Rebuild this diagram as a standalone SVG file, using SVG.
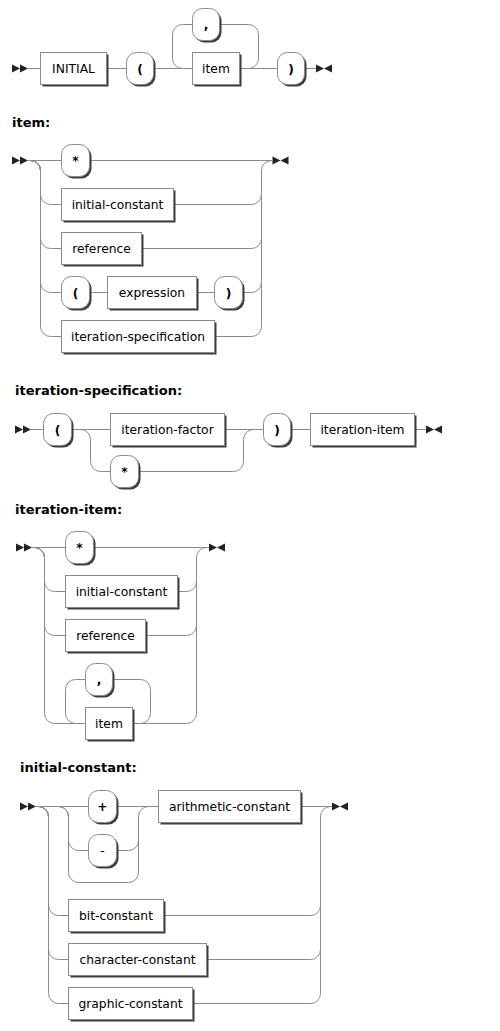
<svg xmlns="http://www.w3.org/2000/svg" width="500" height="1031" viewBox="0 0 500 1031">
<style>
.line{fill:none;stroke:#8a8a8a;stroke-width:1}
.box{fill:#fff;stroke:#8a8a8a;stroke-width:1}
.shadow{fill:#3c3c3c}
.mk{fill:#222}
text{font-family:"DejaVu Sans",Verdana,sans-serif;fill:#000}
.t{font-size:12.3px;text-anchor:middle}
.k{font-weight:bold}
.title{font-size:13px;font-weight:bold}
</style>
<rect width="500" height="1031" fill="#fff"/>

<!-- titles -->
<text class="title" x="12" y="127">item:</text>
<text class="title" x="15" y="395">iteration-specification:</text>
<text class="title" x="15" y="514">iteration-item:</text>
<text class="title" x="20" y="772">initial-constant:</text>

<g id="connectors">
  <!-- diagram 1 -->
  <polygon class="mk" points="20 68.5 12 64.5 12 72.5"/><polygon class="mk" points="28 68.5 20 64.5 20 72.5"/>
  <polygon class="mk" points="324 68.5 316 64.5 316 72.5"/><polygon class="mk" points="324 68.5 332 64.5 332 72.5"/>
  <path class="line" d="M28 68.5H40.5M106.5 68.5H126.5M153.5 68.5H192.5M239.5 68.5H277.5M304.5 68.5H316"/>
  <path class="line" d="M182.5 68.5a10 10 0 0 1 -10 -10v-24a10 10 0 0 1 10 -10h10"/>
  <path class="line" d="M248.5 68.5a10 10 0 0 0 10 -10v-24a10 10 0 0 0 -10 -10H219.5"/>

  <!-- diagram 2: item -->
  <polygon class="mk" points="20 160.5 12 156.5 12 164.5"/><polygon class="mk" points="28 160.5 20 156.5 20 164.5"/>
  <polygon class="mk" points="280.5 160.5 272.5 156.5 272.5 164.5"/><polygon class="mk" points="280.5 160.5 288.5 156.5 288.5 164.5"/>
  <path class="line" d="M28 160.5H61.5M89.5 160.5H272.5"/>
  <path class="line" d="M30.5 160.5a10 10 0 0 1 10 10V194.5a10 10 0 0 0 10 10H61.5"/>
  <path class="line" d="M30.5 160.5a10 10 0 0 1 10 10V238.5a10 10 0 0 0 10 10H61.5"/>
  <path class="line" d="M30.5 160.5a10 10 0 0 1 10 10V282.5a10 10 0 0 0 10 10H61.5"/>
  <path class="line" d="M30.5 160.5a10 10 0 0 1 10 10V326.5a10 10 0 0 0 10 10H61.5"/>
  <path class="line" d="M173.5 204.5H251.5a10 10 0 0 0 10 -10V170.5a10 10 0 0 1 10 -10"/>
  <path class="line" d="M141.5 248.5H251.5a10 10 0 0 0 10 -10V170.5"/>
  <path class="line" d="M89.5 292.5H107.5M196.5 292.5H214.5M242.5 292.5H251.5a10 10 0 0 0 10 -10V170.5"/>
  <path class="line" d="M214.5 336.5H251.5a10 10 0 0 0 10 -10V170.5"/>

  <!-- diagram 3: iteration-specification -->
  <polygon class="mk" points="23 429.5 15 425.5 15 433.5"/><polygon class="mk" points="31 429.5 23 425.5 23 433.5"/>
  <polygon class="mk" points="434 429.5 426 425.5 426 433.5"/><polygon class="mk" points="434 429.5 442 425.5 442 433.5"/>
  <path class="line" d="M31 429.5H43.5M71.5 429.5H110.5M224.5 429.5H263.5M290.5 429.5H310.5M414.5 429.5H426"/>
  <path class="line" d="M80.5 429.5a10 10 0 0 1 10 10v22a10 10 0 0 0 10 10H110.5"/>
  <path class="line" d="M138.5 471.5H233.5a10 10 0 0 0 10 -10v-22a10 10 0 0 1 10 -10"/>

  <!-- diagram 4: iteration-item -->
  <polygon class="mk" points="24 547.5 16 543.5 16 551.5"/><polygon class="mk" points="32 547.5 24 543.5 24 551.5"/>
  <polygon class="mk" points="217 547.5 209 543.5 209 551.5"/><polygon class="mk" points="217 547.5 225 543.5 225 551.5"/>
  <path class="line" d="M32 547.5H65.5M93.5 547.5H209"/>
  <path class="line" d="M34.5 547.5a10 10 0 0 1 10 10V581.5a10 10 0 0 0 10 10H65.5"/>
  <path class="line" d="M34.5 547.5a10 10 0 0 1 10 10V625.5a10 10 0 0 0 10 10H65.5"/>
  <path class="line" d="M34.5 547.5a10 10 0 0 1 10 10V713.5a10 10 0 0 0 10 10H85.5"/>
  <path class="line" d="M177.5 591.5H186.5a10 10 0 0 0 10 -10V557.5a10 10 0 0 1 10 -10"/>
  <path class="line" d="M145.5 635.5H186.5a10 10 0 0 0 10 -10V557.5"/>
  <path class="line" d="M132.5 723.5H186.5a10 10 0 0 0 10 -10V557.5"/>
  <path class="line" d="M85.5 679.5h-10a10 10 0 0 0 -10 10v24a10 10 0 0 0 10 10"/>
  <path class="line" d="M140.5 723.5a10 10 0 0 0 10 -10v-24a10 10 0 0 0 -10 -10H112.5"/>

  <!-- diagram 5: initial-constant -->
  <polygon class="mk" points="28 806.5 20 802.5 20 810.5"/><polygon class="mk" points="36 806.5 28 802.5 28 810.5"/>
  <polygon class="mk" points="340 806.5 332 802.5 332 810.5"/><polygon class="mk" points="340 806.5 348 802.5 348 810.5"/>
  <path class="line" d="M36 806.5H88.5M116.5 806.5H158.5M300.5 806.5H332"/>
  <path class="line" d="M58.5 806.5a10 10 0 0 1 10 10V840.5a10 10 0 0 0 10 10H88.5"/>
  <path class="line" d="M116.5 850.5H128.5a10 10 0 0 0 10 -10V816.5a10 10 0 0 1 10 -10"/>
  <path class="line" d="M58.5 806.5a10 10 0 0 1 10 10V872.5a10 10 0 0 0 10 10H128.5a10 10 0 0 0 10 -10V816.5"/>
  <path class="line" d="M38.5 806.5a10 10 0 0 1 10 10V905.5a10 10 0 0 0 10 10H68.5"/>
  <path class="line" d="M38.5 806.5a10 10 0 0 1 10 10V949.5a10 10 0 0 0 10 10H68.5"/>
  <path class="line" d="M38.5 806.5a10 10 0 0 1 10 10V993.5a10 10 0 0 0 10 10H68.5"/>
  <path class="line" d="M163.5 915.5H310.5a10 10 0 0 0 10 -10V816.5a10 10 0 0 1 10 -10"/>
  <path class="line" d="M206.5 959.5H310.5a10 10 0 0 0 10 -10V816.5"/>
  <path class="line" d="M192.5 1003.5H310.5a10 10 0 0 0 10 -10V816.5"/>
</g>

<!-- diagram 1 nodes -->
<g id="n-INITIAL"><rect class="shadow" x="42.5" y="54.5" width="66" height="32"/><rect class="box" x="40.5" y="52.5" width="66" height="32"/><text class="t" x="73.5" y="72.5">INITIAL</text></g>
<g id="t-lparen1"><rect class="shadow" x="128.5" y="54.5" width="27" height="32" rx="10"/><rect class="box" x="126.5" y="52.5" width="27" height="32" rx="10"/><text class="t k" x="140" y="72.5">(</text></g>
<g id="t-comma1"><rect class="shadow" x="194.5" y="10.5" width="27" height="32" rx="10"/><rect class="box" x="192.5" y="8.5" width="27" height="32" rx="10"/><text class="t k" x="206" y="28.5">,</text></g>
<g id="n-item1"><rect class="shadow" x="194.5" y="54.5" width="47" height="32"/><rect class="box" x="192.5" y="52.5" width="47" height="32"/><text class="t" x="216" y="72.5">item</text></g>
<g id="t-rparen1"><rect class="shadow" x="279.5" y="54.5" width="27" height="32" rx="10"/><rect class="box" x="277.5" y="52.5" width="27" height="32" rx="10"/><text class="t k" x="291" y="72.5">)</text></g>

<!-- diagram 2 nodes -->
<g id="t-star2"><rect class="shadow" x="63.5" y="146.5" width="28" height="32" rx="10"/><rect class="box" x="61.5" y="144.5" width="28" height="32" rx="10"/><text class="t k" x="75.5" y="164.5">*</text></g>
<g id="n-initial-constant2"><rect class="shadow" x="63.5" y="190.5" width="112" height="32"/><rect class="box" x="61.5" y="188.5" width="112" height="32"/><text class="t" x="117.5" y="208.5">initial-constant</text></g>
<g id="n-reference2"><rect class="shadow" x="63.5" y="234.5" width="80" height="32"/><rect class="box" x="61.5" y="232.5" width="80" height="32"/><text class="t" x="101.5" y="252.5">reference</text></g>
<g id="t-lparen2"><rect class="shadow" x="63.5" y="278.5" width="28" height="32" rx="10"/><rect class="box" x="61.5" y="276.5" width="28" height="32" rx="10"/><text class="t k" x="75.5" y="296.5">(</text></g>
<g id="n-expression2"><rect class="shadow" x="109.5" y="278.5" width="89" height="32"/><rect class="box" x="107.5" y="276.5" width="89" height="32"/><text class="t" x="152" y="296.5">expression</text></g>
<g id="t-rparen2"><rect class="shadow" x="216.5" y="278.5" width="28" height="32" rx="10"/><rect class="box" x="214.5" y="276.5" width="28" height="32" rx="10"/><text class="t k" x="228.5" y="296.5">)</text></g>
<g id="n-iteration-specification2"><rect class="shadow" x="63.5" y="322.5" width="153" height="32"/><rect class="box" x="61.5" y="320.5" width="153" height="32"/><text class="t" x="138" y="340.5">iteration-specification</text></g>

<!-- diagram 3 nodes -->
<g id="t-lparen3"><rect class="shadow" x="45.5" y="415.5" width="28" height="32" rx="10"/><rect class="box" x="43.5" y="413.5" width="28" height="32" rx="10"/><text class="t k" x="57.5" y="433.5">(</text></g>
<g id="n-iteration-factor3"><rect class="shadow" x="112.5" y="415.5" width="114" height="32"/><rect class="box" x="110.5" y="413.5" width="114" height="32"/><text class="t" x="167.5" y="433.5">iteration-factor</text></g>
<g id="t-star3"><rect class="shadow" x="112.5" y="457.5" width="28" height="32" rx="10"/><rect class="box" x="110.5" y="455.5" width="28" height="32" rx="10"/><text class="t k" x="124.5" y="475.5">*</text></g>
<g id="t-rparen3"><rect class="shadow" x="265.5" y="415.5" width="27" height="32" rx="10"/><rect class="box" x="263.5" y="413.5" width="27" height="32" rx="10"/><text class="t k" x="277" y="433.5">)</text></g>
<g id="n-iteration-item3"><rect class="shadow" x="312.5" y="415.5" width="104" height="32"/><rect class="box" x="310.5" y="413.5" width="104" height="32"/><text class="t" x="362.5" y="433.5">iteration-item</text></g>

<!-- diagram 4 nodes -->
<g id="t-star4"><rect class="shadow" x="67.5" y="533.5" width="28" height="32" rx="10"/><rect class="box" x="65.5" y="531.5" width="28" height="32" rx="10"/><text class="t k" x="79.5" y="551.5">*</text></g>
<g id="n-initial-constant4"><rect class="shadow" x="67.5" y="577.5" width="112" height="32"/><rect class="box" x="65.5" y="575.5" width="112" height="32"/><text class="t" x="121.5" y="595.5">initial-constant</text></g>
<g id="n-reference4"><rect class="shadow" x="67.5" y="621.5" width="80" height="32"/><rect class="box" x="65.5" y="619.5" width="80" height="32"/><text class="t" x="105.5" y="639.5">reference</text></g>
<g id="t-comma4"><rect class="shadow" x="87.5" y="665.5" width="27" height="32" rx="10"/><rect class="box" x="85.5" y="663.5" width="27" height="32" rx="10"/><text class="t k" x="99" y="683.5">,</text></g>
<g id="n-item4"><rect class="shadow" x="87.5" y="709.5" width="47" height="32"/><rect class="box" x="85.5" y="707.5" width="47" height="32"/><text class="t" x="109" y="727.5">item</text></g>

<!-- diagram 5 nodes -->
<g id="t-plus5"><rect class="shadow" x="90.5" y="792.5" width="28" height="32" rx="10"/><rect class="box" x="88.5" y="790.5" width="28" height="32" rx="10"/><text class="t k" x="102.5" y="810.5">+</text></g>
<g id="t-minus5"><rect class="shadow" x="90.5" y="836.5" width="28" height="32" rx="10"/><rect class="box" x="88.5" y="834.5" width="28" height="32" rx="10"/><text class="t" x="102.5" y="854.5">-</text></g>
<g id="n-arithmetic-constant5"><rect class="shadow" x="160.5" y="792.5" width="142" height="32"/><rect class="box" x="158.5" y="790.5" width="142" height="32"/><text class="t" x="229.5" y="810.5">arithmetic-constant</text></g>
<g id="n-bit-constant5"><rect class="shadow" x="70.5" y="901.5" width="95" height="32"/><rect class="box" x="68.5" y="899.5" width="95" height="32"/><text class="t" x="116" y="919.5">bit-constant</text></g>
<g id="n-character-constant5"><rect class="shadow" x="70.5" y="945.5" width="138" height="32"/><rect class="box" x="68.5" y="943.5" width="138" height="32"/><text class="t" x="137.5" y="963.5">character-constant</text></g>
<g id="n-graphic-constant5"><rect class="shadow" x="70.5" y="989.5" width="124" height="32"/><rect class="box" x="68.5" y="987.5" width="124" height="32"/><text class="t" x="130.5" y="1007.5">graphic-constant</text></g>
</svg>
